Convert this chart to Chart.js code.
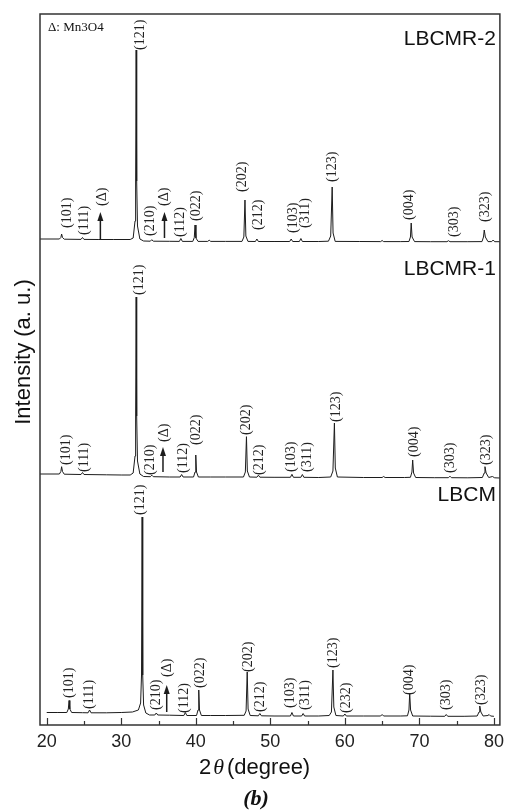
<!DOCTYPE html>
<html>
<head>
<meta charset="utf-8">
<script src="https://cdn.jsdelivr.net/npm/chart.js@4.4.0/dist/chart.umd.min.js"></script>
<style>
  html, body { margin: 0; padding: 0; background: #fff; }
  #wrap { width: 510px; height: 811px; position: relative; }
</style>
</head>
<body>
<div id="wrap"><canvas id="xrdChart"></canvas></div>
<script>
// samples, bottom to top
const sampleNames = ["LBCM", "LBCMR-1", "LBCMR-2"];
// vertical stacking offset of each pattern (a.u.)
const sampleOffsets = [0, 239, 474];

// patterns: [2theta, intensity]
const lbcmPattern = [
  [20, 12.5], [21.5, 12.5], [22.7, 12.5], [22.9, 16], [23.0, 24.5], [23.1, 16], [23.35, 12.5],
  [24.8, 12.3], [25.55, 12.2], [25.75, 15], [25.95, 12.2],
  [28, 12.2], [30, 12.5], [31.5, 13], [32.3, 15], [32.6, 22], [32.72, 50], [32.8, 208], [32.88, 50], [33.0, 20], [33.3, 12], [33.8, 10],
  [34.5, 10], [34.7, 12], [34.9, 10],
  [36.5, 9.8], [38.4, 9.5], [38.6, 12.5], [38.8, 9.5],
  [40.1, 9.5], [40.3, 15], [40.4, 35], [40.5, 15], [40.75, 9.5],
  [42, 9.5], [44, 9.5], [46.5, 9.7], [46.75, 14], [46.9, 53], [47.02, 16], [47.3, 9.5],
  [48.4, 9.2], [48.6, 11.5], [48.8, 9.2],
  [50.5, 9], [52.7, 9], [52.9, 12.5], [53.1, 9],
  [54.2, 9], [54.4, 11.5], [54.6, 9],
  [56.5, 9], [57.9, 9.5], [58.2, 13], [58.4, 55], [58.52, 18], [58.8, 9.5],
  [59.8, 9], [60.0, 11], [60.2, 9],
  [62.5, 9], [64.8, 9], [65.0, 10.5], [65.2, 9],
  [67.5, 9], [68.4, 9.2], [68.6, 15], [68.7, 32], [68.82, 15], [69.1, 9],
  [71.5, 8.8], [73.4, 8.7], [73.6, 10.5], [73.8, 8.7],
  [76, 8.7], [77.75, 9], [78.0, 13], [78.1, 19], [78.25, 13], [78.55, 9],
  [79.2, 9.5], [79.35, 10.5], [79.55, 9], [80, 8.7]
];
const lbcmr1Pattern = [
  [19.1, 12], [21.7, 12], [21.9, 14.5], [22.0, 19.3], [22.12, 14.5], [22.35, 11.8],
  [24.6, 11.5], [24.8, 13.5], [25.0, 11.5],
  [28, 11.2], [30, 11], [31.2, 11], [31.6, 13], [31.85, 30], [31.93, 70], [32.0, 189], [32.07, 70], [32.18, 25], [32.5, 12], [33.0, 9.5],
  [33.9, 9.3], [34.1, 10.8], [34.3, 9.3],
  [36.5, 9], [37.9, 9], [38.1, 11.5], [38.3, 9],
  [39.7, 9], [39.9, 14], [40.0, 31], [40.1, 14], [40.35, 9],
  [42, 9], [44, 9], [46.4, 9], [46.65, 14], [46.8, 49.3], [46.92, 15], [47.2, 9],
  [48.2, 8.8], [48.4, 10.8], [48.6, 8.8],
  [50.5, 8.7], [52.7, 8.7], [52.9, 11.7], [53.1, 8.7],
  [54.1, 8.7], [54.3, 11.5], [54.5, 8.7],
  [56.5, 8.5], [58.1, 9], [58.4, 15], [58.6, 63], [58.72, 18], [59.0, 9],
  [62.5, 8.5], [65, 8.5], [65.2, 9.5], [65.4, 8.5],
  [68.0, 8.5], [68.8, 8.7], [69.0, 14], [69.1, 26], [69.22, 13], [69.5, 8.5],
  [72, 8.3], [73.9, 8.3], [74.1, 9.8], [74.3, 8.3],
  [76.5, 8.2], [78.45, 8.5], [78.7, 13], [78.8, 19.3], [78.95, 13], [79.3, 8.5],
  [79.8, 9.5], [80.1, 8.2], [80.8, 8]
];
const lbcmr2Pattern = [
  [19.1, 12], [21.7, 12], [21.9, 13.5], [22.0, 17], [22.12, 13.5], [22.35, 11.8],
  [24.6, 11.6], [24.8, 13.5], [25.0, 11.6],
  [27, 11.5], [29, 11.5], [31.2, 11.5], [31.6, 13], [31.85, 30], [31.93, 70], [32.0, 201], [32.07, 70], [32.18, 25], [32.5, 12], [33.0, 10],
  [33.9, 9.8], [34.1, 11.3], [34.3, 9.8],
  [36.5, 9.7], [37.8, 9.6], [38.0, 12.5], [38.2, 9.6],
  [39.6, 9.6], [39.8, 13.5], [39.9, 26], [40.02, 13], [40.3, 9.6],
  [41.6, 9.6], [41.8, 10.8], [42.0, 9.6],
  [44, 9.6], [46.2, 9.6], [46.45, 14], [46.6, 51], [46.72, 15], [47.0, 9.6],
  [48.0, 9.5], [48.2, 12], [48.4, 9.5],
  [50.5, 9.5], [52.6, 9.5], [52.8, 12], [53.0, 9.5],
  [53.9, 9.5], [54.1, 12.5], [54.3, 9.5],
  [56.5, 9.5], [57.8, 9.8], [58.1, 15], [58.3, 64], [58.42, 18], [58.7, 9.6],
  [62, 9.5], [64.8, 9.4], [65.0, 10.5], [65.2, 9.4],
  [67.5, 9.4], [68.6, 9.5], [68.8, 14], [68.9, 28], [69.02, 14], [69.35, 9.4],
  [71.5, 9.3], [73.7, 9.3], [73.9, 10.3], [74.1, 9.3],
  [76.5, 9.3], [78.4, 9.4], [78.6, 14], [78.7, 21], [78.85, 14], [79.2, 9.4],
  [79.7, 9.4], [79.9, 11], [80.1, 9.3], [80.8, 9.3]
];

const xTicks = [20, 30, 40, 50, 60, 70, 80];
const xMinorTicks = [25, 35, 45, 55, 65, 75];

// reflection labels: [text, 2theta, intensity where the label starts]
const lbcmLabels = [
  ["(101)", 23.0, 27], ["(111)", 25.75, 16], ["(121)", 32.6, 210], ["(210)", 34.65, 15],
  ["(\u0394)", 36.2, 48], ["(112)", 38.5, 12], ["(022)", 40.6, 37], ["(202)", 47.1, 53],
  ["(212)", 48.7, 13], ["(103)", 52.7, 17], ["(311)", 54.7, 15], ["(123)", 58.5, 57],
  ["(232)", 60.2, 12], ["(004)", 68.7, 30], ["(303)", 73.6, 15], ["(323)", 78.3, 20]
];
const lbcmr1Labels = [
  ["(101)", 22.6, 21], ["(111)", 25.0, 14], ["(121)", 32.4, 191], ["(210)", 33.9, 11],
  ["(\u0394)", 35.8, 44], ["(112)", 38.3, 13], ["(022)", 40.1, 41], ["(202)", 46.8, 51],
  ["(212)", 48.5, 11], ["(103)", 52.8, 14], ["(311)", 54.9, 14], ["(123)", 58.9, 64],
  ["(004)", 69.3, 29], ["(303)", 74.1, 13], ["(323)", 79.0, 21]
];
const lbcmr2Labels = [
  ["(101)", 22.7, 23], ["(111)", 25.0, 16], ["(\u0394)", 27.4, 45], ["(121)", 32.5, 201],
  ["(210)", 33.9, 15], ["(\u0394)", 35.8, 45], ["(112)", 37.9, 14], ["(022)", 40.1, 30],
  ["(202)", 46.2, 59], ["(212)", 48.4, 21], ["(103)", 53.1, 18], ["(311)", 54.75, 23],
  ["(123)", 58.35, 69], ["(004)", 68.6, 31], ["(303)", 74.7, 14], ["(323)", 78.9, 29]
];

// Mn3O4 markers: [2theta, from, to]
const lbcmArrows = [[36.1, 13, 40]];
const lbcmr1Arrows = [[35.6, 14, 39]];
const lbcmr2Arrows = [[27.2, 11, 39], [35.8, 13, 39]];

const patterns = [lbcmPattern, lbcmr1Pattern, lbcmr2Pattern];
const peakLabels = [lbcmLabels, lbcmr1Labels, lbcmr2Labels];
const phaseArrows = [lbcmArrows, lbcmr1Arrows, lbcmr2Arrows];

const INK = "#1c1c1c";

const xrdDecor = {
  id: "xrdDecor",
  beforeDraw(chart) {
    const c = chart.ctx;
    c.save();
    c.fillStyle = "#fff";
    c.fillRect(0, 0, chart.width, chart.height);
    c.restore();
  },
  afterDraw(chart) {
    const { ctx, chartArea: a, scales: { x, y } } = chart;
    ctx.save();

    // frame
    ctx.strokeStyle = "#333";
    ctx.lineWidth = 1.5;
    ctx.strokeRect(a.left, a.top, a.right - a.left, a.bottom - a.top);

    // inward ticks on the bottom axis
    ctx.lineWidth = 1.2;
    ctx.beginPath();
    xTicks.forEach(v => {
      const px = Math.round(x.getPixelForValue(v)) + 0.5;
      ctx.moveTo(px, a.bottom); ctx.lineTo(px, a.bottom - 7);
    });
    xMinorTicks.forEach(v => {
      const px = Math.round(x.getPixelForValue(v)) + 0.5;
      ctx.moveTo(px, a.bottom); ctx.lineTo(px, a.bottom - 4);
    });
    ctx.stroke();

    // hkl labels
    ctx.fillStyle = "#222";
    ctx.font = '14px "Liberation Serif"';
    ctx.textAlign = "left";
    ctx.textBaseline = "middle";
    peakLabels.forEach((list, i) => {
      list.forEach(([t, tt, v]) => {
        ctx.save();
        ctx.translate(x.getPixelForValue(tt), y.getPixelForValue(v + sampleOffsets[i]));
        ctx.rotate(-Math.PI / 2);
        ctx.fillText(t, 0, 0);
        ctx.restore();
      });
    });

    // Mn3O4 arrows
    ctx.strokeStyle = INK;
    ctx.fillStyle = INK;
    ctx.lineWidth = 1.5;
    phaseArrows.forEach((list, i) => {
      list.forEach(([tt, v0, v1]) => {
        const px = x.getPixelForValue(tt);
        const y0 = y.getPixelForValue(v0 + sampleOffsets[i]);
        const y1 = y.getPixelForValue(v1 + sampleOffsets[i]);
        ctx.beginPath();
        ctx.moveTo(px, y0); ctx.lineTo(px, y1 + 6);
        ctx.stroke();
        ctx.beginPath();
        ctx.moveTo(px, y1); ctx.lineTo(px - 3, y1 + 9); ctx.lineTo(px + 3, y1 + 9);
        ctx.closePath();
        ctx.fill();
      });
    });

    // sample names
    const nameY = [495, 269, 39];
    ctx.fillStyle = "#111";
    ctx.font = '21px "Liberation Sans"';
    ctx.textAlign = "right";
    sampleNames.forEach((n, i) => ctx.fillText(n, a.right - 4, nameY[i]));

    // phase note
    ctx.font = '13px "Liberation Serif"';
    ctx.textAlign = "left";
    ctx.textBaseline = "alphabetic";
    ctx.fillText("\u0394: Mn3O4", 48, 31);

    // y title
    ctx.save();
    ctx.translate(30, 352);
    ctx.rotate(-Math.PI / 2);
    ctx.font = '22px "Liberation Sans"';
    ctx.textAlign = "center";
    ctx.fillText("Intensity (a. u.)", 0, 0);
    ctx.restore();

    // x title: 2θ (degree)
    let tx = 199;
    const by = 774;
    ctx.font = '22px "Liberation Sans"';
    ctx.fillText("2", tx, by);
    tx += ctx.measureText("2").width + 2;
    ctx.font = 'italic 22px "Liberation Serif"';
    ctx.fillText("\u03B8", tx, by);
    tx += ctx.measureText("\u03B8").width + 3;
    ctx.font = '22px "Liberation Sans"';
    ctx.fillText("(degree)", tx, by);

    // panel tag
    ctx.font = 'bold italic 22px "Liberation Serif"';
    ctx.textAlign = "center";
    ctx.fillText("(b)", 256, 805);

    ctx.restore();
  }
};

new Chart(document.getElementById("xrdChart"), {
  type: "line",
  data: {
    datasets: patterns.map((p, i) => ({
      label: sampleNames[i],
      data: p.map(([t, v]) => ({ x: t, y: v + sampleOffsets[i] })),
      borderColor: INK,
      borderWidth: 1,
      pointRadius: 0,
      tension: 0,
      fill: false
    }))
  },
  options: {
    responsive: true,
    maintainAspectRatio: false,
    animation: false,
    layout: { padding: { left: 40, top: 14, right: 5, bottom: 0 } },
    scales: {
      x: {
        type: "linear",
        min: 19.1,
        max: 80.8,
        afterBuildTicks: s => { s.ticks = xTicks.map(v => ({ value: v })); },
        afterFit: s => { s.height = 86; },
        grid: { display: false, drawTicks: false },
        border: { display: false },
        ticks: {
          font: { family: "Liberation Sans", size: 18 },
          color: "#222",
          padding: 6,
          maxRotation: 0
        }
      },
      y: { display: false, min: 0, max: 711 }
    },
    plugins: {
      legend: { display: false },
      tooltip: { enabled: false }
    }
  },
  plugins: [xrdDecor]
});
</script>
</body>
</html>
